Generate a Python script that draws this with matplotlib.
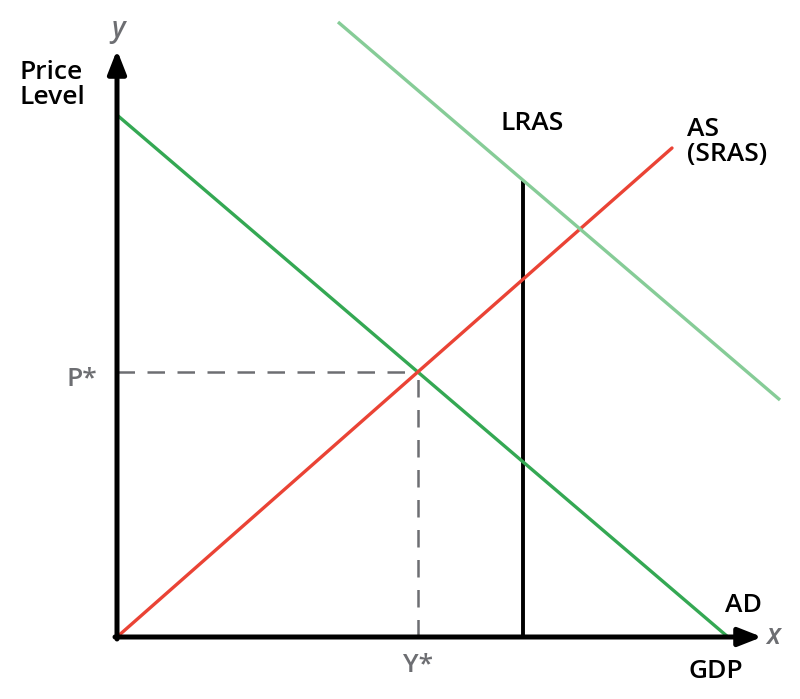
import matplotlib
matplotlib.use("Agg")
import matplotlib.pyplot as plt

# Data (in chart units: origin at axes intersection)
ad_x = [0, 611]
ad_y = [522, 0]
as_x = [0, 555]
as_y = [0, 489]
ad2_x = [221, 663]
ad2_y = [615, 237]
lras_x = [406, 406]
lras_y = [0, 456]
p_star = 265
y_star = 301
x_axis_end = 645
y_axis_end = 587

plt.rcParams['font.family'] = ['Open Sans', 'DejaVu Sans']

fig = plt.figure(figsize=(8.0, 6.99), dpi=100)
ax = fig.add_axes([0, 0, 1, 1])
ax.set_xlim(-117, 683)
ax.set_ylim(-62, 637)
ax.axis('off')

gray = '#6d6e72'
# dashed guides
ax.plot([0, y_star], [p_star, p_star], color=gray, lw=1.8, dashes=(7, 5), zorder=1)
ax.plot([y_star, y_star], [0, p_star], color=gray, lw=1.8, dashes=(7, 5), zorder=1)

# curves
ax.plot(ad_x, ad_y, color='#34a853', lw=2.4, solid_capstyle='butt', zorder=3)
ax.plot(as_x, as_y, color='#ea4335', lw=2.4, solid_capstyle='round', zorder=3)
ax.plot(lras_x, lras_y, color='black', lw=2.8, solid_capstyle='butt', zorder=2)
ax.plot(ad2_x, ad2_y, color='#86cc97', lw=2.4, solid_capstyle='butt', zorder=4)

# axes with arrows
ax.annotate('', xy=(x_axis_end, 0), xytext=(-2, 0),
            arrowprops=dict(arrowstyle='-|>,head_length=1.4,head_width=0.55',
                            color='black', lw=3.6, shrinkA=0, shrinkB=0), zorder=5)
ax.annotate('', xy=(0, y_axis_end), xytext=(0, -2),
            arrowprops=dict(arrowstyle='-|>,head_length=1.4,head_width=0.55',
                            color='black', lw=3.6, shrinkA=0, shrinkB=0), zorder=5)

fs = 19
fw = 'semibold'
ax.text(1, 607, 'y', color=gray, fontsize=20, style='italic', ha='center', va='center', weight=fw)
ax.text(656, 0, 'x', color=gray, fontsize=20, style='italic', ha='center', va='center', weight=fw)
ax.text(-98, 552, 'Price\nLevel', fontsize=fs, ha='left', va='center', linespacing=1.0, weight=fw)
ax.text(-20, p_star - 8, 'P*', color=gray, fontsize=fs, ha='right', va='center', weight=fw)
ax.text(y_star, -29, 'Y*', color=gray, fontsize=fs, ha='center', va='center', weight=fw)
ax.text(599, -34, 'GDP', fontsize=fs, ha='center', va='center', weight=fw)
ax.text(626, 31, 'AD', fontsize=fs, ha='center', va='center', weight=fw)
ax.text(415, 514, 'LRAS', fontsize=fs, ha='center', va='center', weight=fw)
ax.text(570, 495, 'AS\n(SRAS)', fontsize=fs, ha='left', va='center', linespacing=0.95, weight=fw)

fig.savefig('out.png', dpi=100)
